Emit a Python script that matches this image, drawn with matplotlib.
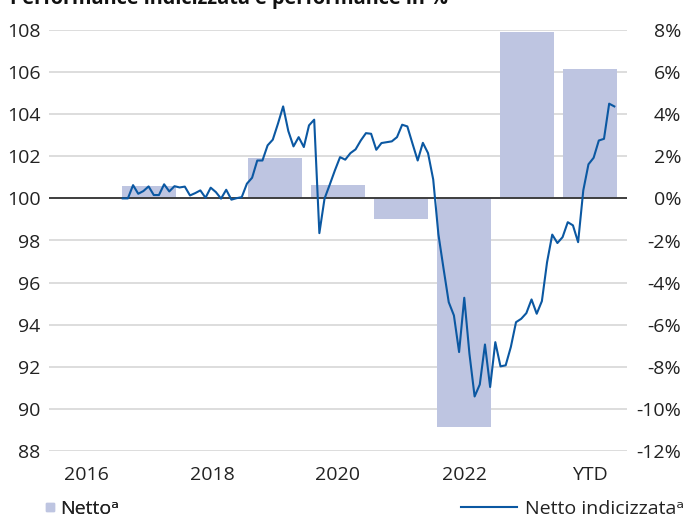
import numpy as np
import matplotlib.pyplot as plt
from matplotlib.lines import Line2D

plt.rcParams['font.family'] = ['Open Sans', 'DejaVu Sans']

# --- dati ---
categorie = ['2016', '2017', '2018', '2019', '2020', '2021', '2022', '2023', 'YTD']
etichette_x = ['2016', '', '2018', '', '2020', '', '2022', '', 'YTD']
netto_pct = [np.nan, 0.57, np.nan, 1.90, 0.62, -0.97, -10.85, 7.90, 6.13]

# serie mensile indicizzata (base 100)
netto_index = [
    100.00, 100.00, 100.63, 100.22, 100.35, 100.57, 100.16, 100.16, 100.67, 100.33,
    100.58, 100.52, 100.56, 100.14, 100.25, 100.38, 100.03, 100.51, 100.30, 99.99,
    100.41, 99.94, 100.01, 100.06, 100.70, 100.98, 101.80, 101.80, 102.52, 102.79,
    103.55, 104.37, 103.20, 102.47, 102.91, 102.44, 103.47, 103.74, 98.35, 99.99,
    100.65, 101.33, 101.96, 101.84, 102.15, 102.33, 102.75, 103.10, 103.07, 102.31,
    102.63, 102.67, 102.71, 102.91, 103.50, 103.42, 102.60, 101.80, 102.64, 102.15,
    100.90, 98.30, 96.66, 95.07, 94.44, 92.70, 95.28, 92.62, 90.59, 91.16,
    93.06, 91.04, 93.17, 92.02, 92.07, 92.94, 94.12, 94.28, 94.55, 95.20,
    94.52, 95.12, 96.97, 98.28, 97.88, 98.16, 98.87, 98.72, 97.92, 100.38,
    101.62, 101.93, 102.75, 102.83, 104.50, 104.37,
]
line_start, line_end = 0.583, 8.386   # posizione su asse categorie (gen 2017 .. fine serie)

colore_barre = '#bec5e1'
colore_linea = '#0b58a2'
colore_griglia = '#dadada'

# --- figura ---
fig = plt.figure(figsize=(6.85, 5.18), dpi=100)
ax2 = fig.add_axes([49 / 685, 67 / 518, 578 / 685, 421 / 518])   # barre, asse destro
ax = ax2.twinx()
ax.set_zorder(ax2.get_zorder() + 1)
ax.patch.set_visible(False)

x = np.arange(len(categorie))
ax2.bar(x, netto_pct, width=0.86, color=colore_barre, zorder=2)
ax2.set_ylim(-12, 8)
ax2.set_yticks(np.arange(-12, 9, 2))
ax2.set_yticklabels([f'{v}%' for v in range(-12, 9, 2)])
ax2.yaxis.tick_right()
ax2.grid(axis='y', color=colore_griglia, linewidth=1.3, zorder=0)
ax2.set_axisbelow(True)

# linea indicizzata, asse sinistro
ax.yaxis.tick_left()
line_x = np.linspace(line_start, line_end, len(netto_index))
ax.axhline(100, color='#333333', linewidth=1.3, zorder=2)
ax.plot(line_x, netto_index, color=colore_linea, linewidth=1.5, zorder=3)
ax.set_ylim(88, 108)
ax.set_yticks(np.arange(88, 109, 2))

for a in (ax, ax2):
    for s in a.spines.values():
        s.set_visible(False)

ax2.set_xlim(-0.587, 8.587)
ax2.set_xticks(x)
ax2.set_xticklabels(etichette_x)

ax.tick_params(axis='y', length=0, pad=6, labelsize=14, labelcolor='#222222')
ax2.tick_params(axis='y', length=0, pad=39, labelsize=14, labelcolor='#222222')
for t in ax2.get_yticklabels():
    t.set_horizontalalignment('right')
ax2.tick_params(axis='x', length=0, pad=11, labelsize=14, labelcolor='#222222')

# titolo (tagliato in alto come nell'originale)
fig.text(10 / 685, 1 - 4 / 518, 'Performance indicizzata e performance in %',
         fontsize=14.3, fontweight='bold', color='#111111', va='baseline', ha='left')

# legende
h1 = Line2D([], [], marker='s', linestyle='none', markersize=6,
            markerfacecolor=colore_barre, markeredgecolor=colore_barre)
h2 = Line2D([], [], color=colore_linea, linewidth=1.5)
leg1 = fig.legend([h1], ['Netto\u1d43'], loc='center left', frameon=False,
                  bbox_to_anchor=(44 / 685, 1 - 509 / 518), fontsize=14,
                  handlelength=0.6, handletextpad=0.25, borderaxespad=0, borderpad=0,
                  labelcolor='#222222')
leg2 = fig.legend([h2], ['Netto indicizzata\u1d43'], loc='center right', frameon=False,
                  bbox_to_anchor=(684 / 685, 1 - 509 / 518), fontsize=14,
                  handlelength=2.9, handletextpad=0.4, borderaxespad=0, borderpad=0,
                  labelcolor='#222222')
fig.add_artist(leg1)

fig.savefig('out.png', dpi=100, facecolor='white')
